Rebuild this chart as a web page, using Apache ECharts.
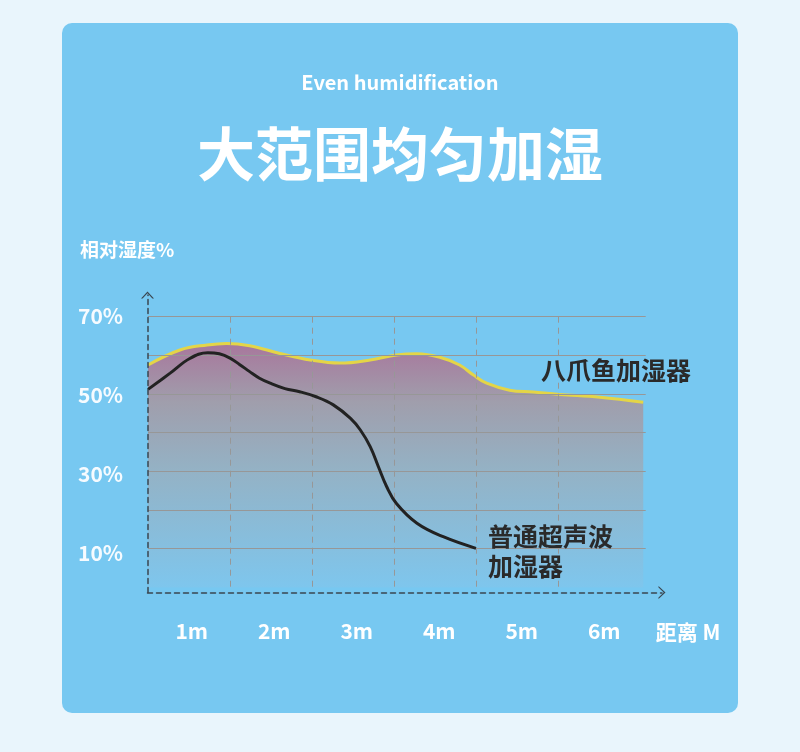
<!DOCTYPE html>
<html>
<head>
<meta charset="utf-8">
<title>大范围均匀加湿</title>
<script src="https://cdn.jsdelivr.net/npm/echarts@6/dist/echarts.min.js"></script>
<style>
    html, body { margin: 0; padding: 0; background: #e9f5fc; }
    #card { position: absolute; left: 62px; top: 23px; width: 676px; height: 690px; border-radius: 10px; background: #77c8f1; }
    #chart1 { position: absolute; left: 0; top: 0; width: 800px; height: 752px; }
</style>
</head>
<body>
<div id="card"></div>
<div id="chart1"></div>
<script>
// 距离 (m) / 相对湿度 (%)
var distLabels = ["1m", "2m", "3m", "4m", "5m", "6m"];
var humTicks = [10, 30, 50, 70];

// 八爪鱼加湿器
var octoX = [0, 0.39, 0.72, 0.96, 1.24, 1.61, 1.98, 2.34, 2.71, 3.03, 3.28, 3.56, 3.80, 3.97, 4.13, 4.41, 4.70, 5.02, 5.51, 6.04];
var octoY = [57.5, 61.4, 62.7, 63.1, 62.5, 60.5, 58.8, 58.0, 58.8, 60.1, 60.4, 59.5, 57.5, 54.9, 52.8, 51.0, 50.5, 49.9, 49.2, 47.9];

// 普通超声波加湿器
var ultraX = [0, 0.27, 0.51, 0.73, 0.87, 1.00, 1.12, 1.24, 1.36, 1.49, 1.67, 1.85, 2.05, 2.26, 2.47, 2.59, 2.71, 2.81, 2.91, 3.03, 3.28, 3.60, 4.00];
var ultraY = [51.2, 55.4, 59.2, 60.7, 60.4, 59.3, 57.6, 55.8, 54.1, 52.8, 51.4, 50.6, 49.3, 47.2, 43.7, 40.7, 36.4, 31.2, 26.1, 21.7, 16.6, 13.1, 10.1];

var FONT = '"Noto Sans CJK SC", "Noto Sans", sans-serif';
var AXIS_COLOR = "#3a4650";
var GRID_COLOR = "#979797";
var NONE = "rgba(0,0,0,0)";

var zip = function (xs, ys) {
    return xs.map(function (x, i) { return [x, ys[i]]; });
};

var chevron = "path://M0,7 L6.5,0 L13,7 L11.4,7 L6.5,1.8 L1.6,7 Z";

var LoadChart = function () {
    var myChart = echarts.init(document.getElementById("chart1"));
    var option = {
        backgroundColor: "transparent",
        animation: false,
        grid: [
            // 坐标轴 (带箭头)
            { left: 147.5, top: 295, width: 514.5, bottom: 159.5 },
            // 数据区
            { left: 148, top: 316.7, width: 497.7, bottom: 164.6 },
            // x 轴标签
            { left: 150.5, top: 295, width: 495, bottom: 159.5 }
        ],
        xAxis: [
            {
                gridIndex: 0, type: "value", min: 0, max: 1, z: 4,
                axisLine: { show: true, symbol: ["none", chevron], symbolSize: [13, 7],
                    lineStyle: { color: AXIS_COLOR, width: 1.5, type: [5, 4] } },
                axisTick: { show: false }, axisLabel: { show: false }, splitLine: { show: false }
            },
            {
                gridIndex: 1, type: "value", min: 0, max: 6.07, interval: 1, z: 2,
                axisLine: { show: false }, axisTick: { show: false }, axisLabel: { show: false },
                splitLine: { show: true, lineStyle: { color: [NONE, GRID_COLOR, GRID_COLOR, GRID_COLOR, GRID_COLOR, GRID_COLOR, NONE, NONE], width: 1, type: [6, 5] } }
            },
            {
                gridIndex: 2, type: "category", data: distLabels, boundaryGap: true,
                axisLine: { show: false }, axisTick: { show: false }, splitLine: { show: false },
                axisLabel: { color: "#ffffff", fontSize: 21, fontWeight: "bold", fontFamily: FONT, margin: 28 }
            }
        ],
        yAxis: [
            {
                gridIndex: 0, type: "value", min: 0, max: 75.3, interval: 10, z: 4,
                axisLine: { show: true, symbol: ["none", chevron], symbolSize: [13, 7],
                    lineStyle: { color: AXIS_COLOR, width: 1.5, type: [5, 4] } },
                axisTick: { show: false }, splitLine: { show: false },
                axisLabel: {
                    color: "#f6fbff", fontSize: 21, fontWeight: "bold", fontFamily: FONT,
                    align: "left", margin: 69.5, showMaxLabel: false,
                    formatter: function (v) { return humTicks.indexOf(v) > -1 ? v + "%" : ""; }
                }
            },
            {
                gridIndex: 1, type: "value", min: 0, max: 70, interval: 10, z: 2,
                axisLine: { show: false }, axisTick: { show: false }, axisLabel: { show: false },
                splitLine: { show: true, lineStyle: { color: [NONE, GRID_COLOR, GRID_COLOR, GRID_COLOR, GRID_COLOR, GRID_COLOR, GRID_COLOR, GRID_COLOR], width: 1.2 } }
            },
            {
                gridIndex: 2, type: "value", show: false
            }
        ],
        series: [
            {
                name: "八爪鱼加湿器",
                type: "line",
                xAxisIndex: 1, yAxisIndex: 1,
                data: zip(octoX, octoY),
                smooth: 0.4,
                symbol: "none",
                lineStyle: { color: "#e4d547", width: 3 },
                areaStyle: {
                    opacity: 1,
                    color: new echarts.graphic.LinearGradient(0, 0, 0, 1, [
                        { offset: 0, color: "#a8779c" },
                        { offset: 0.24, color: "#a09eac" },
                        { offset: 0.52, color: "#94b2c5" },
                        { offset: 1, color: "#7ec6ed" }
                    ])
                },
                z: 1
            },
            {
                name: "普通超声波加湿器",
                type: "line",
                xAxisIndex: 1, yAxisIndex: 1,
                data: zip(ultraX, ultraY),
                smooth: 0.4,
                symbol: "none",
                lineStyle: { color: "#222222", width: 3 },
                z: 3
            }
        ],
        graphic: [
            { type: "text", z: 100, x: 400, y: 82, style: { text: "Even humidification", fill: "#ffffff", font: "bold 20px " + FONT, textAlign: "center", textVerticalAlign: "middle" } },
            { type: "text", z: 100, x: 400, y: 154, style: { text: "大范围均匀加湿", fill: "#ffffff", font: "bold 58px " + FONT, textAlign: "center", textVerticalAlign: "middle" } },
            { type: "text", z: 100, x: 80, y: 250, style: { text: "相对湿度%", fill: "#ffffff", font: "bold 19px " + FONT, textAlign: "left", textVerticalAlign: "middle" } },
            { type: "text", z: 100, x: 688, y: 632, style: { text: "距离 M", fill: "#ffffff", font: "bold 21px " + FONT, textAlign: "center", textVerticalAlign: "middle" } },
            { type: "text", z: 100, x: 541, y: 370, style: { text: "八爪鱼加湿器", fill: "#2a2a2a", font: "bold 25px " + FONT, textAlign: "left", textVerticalAlign: "middle" } },
            { type: "text", z: 100, x: 488, y: 536, style: { text: "普通超声波", fill: "#2a2a2a", font: "bold 25px " + FONT, textAlign: "left", textVerticalAlign: "middle" } },
            { type: "text", z: 100, x: 488, y: 566, style: { text: "加湿器", fill: "#2a2a2a", font: "bold 25px " + FONT, textAlign: "left", textVerticalAlign: "middle" } }
        ]
    };
    myChart.setOption(option);
};

LoadChart();
</script>
</body>
</html>
